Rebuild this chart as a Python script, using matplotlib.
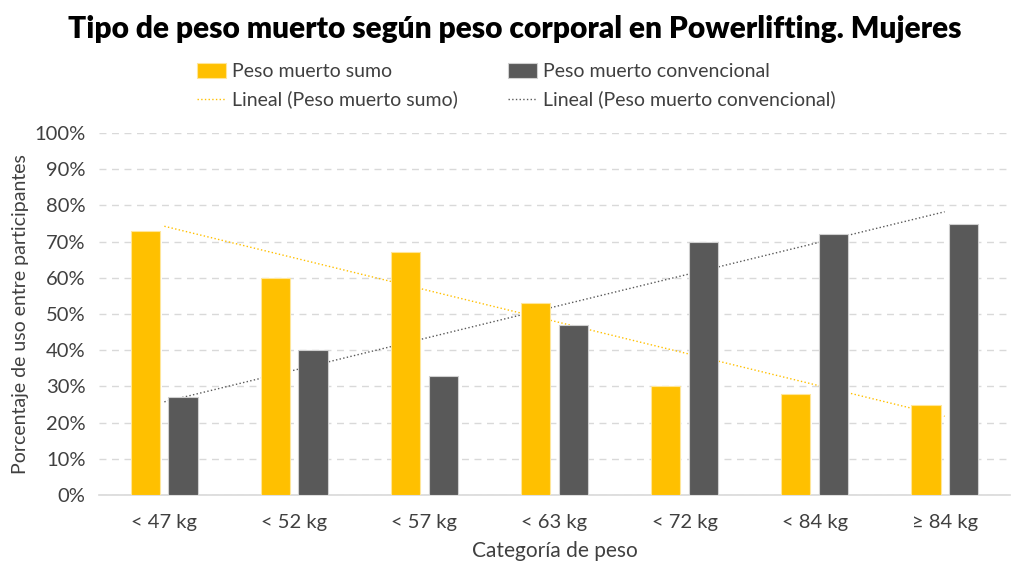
import matplotlib.pyplot as plt
import numpy as np
from matplotlib.ticker import PercentFormatter

plt.rcParams['font.family'] = ['Lato', 'DejaVu Sans']

categorias = ['< 47 kg', '< 52 kg', '< 57 kg', '< 63 kg', '< 72 kg', '< 84 kg', '≥ 84 kg']
sumo = [73, 60, 67, 53, 30, 28, 25]
convencional = [27, 40, 33, 47, 70, 72, 75]

amarillo = '#FFC000'
gris = '#595959'

fig = plt.figure(figsize=(10.24, 5.81), dpi=100)
ax = fig.add_axes([0.097, 0.148, 0.889, 0.623])

x = np.arange(len(categorias))
w = 0.225
off = 0.144
b1 = ax.bar(x - off, sumo, w, color=amarillo, edgecolor='#FFE699', linewidth=0.8,
            label='Peso muerto sumo', zorder=3)
b2 = ax.bar(x + off, convencional, w, color=gris, edgecolor='#D0D0D0', linewidth=0.8,
            label='Peso muerto convencional', zorder=3)

# lineas de tendencia (ajuste lineal)
xs = np.arange(1, len(categorias) + 1)
p1 = np.polyfit(xs, sumo, 1)
p2 = np.polyfit(xs, convencional, 1)
t1, = ax.plot(x, np.polyval(p1, xs), ls=':', color=amarillo, lw=1.0,
              label='Lineal (Peso muerto sumo)', zorder=2)
t2, = ax.plot(x, np.polyval(p2, xs), ls=':', color=gris, lw=1.0,
              label='Lineal (Peso muerto convencional)', zorder=2)

ax.set_xlim(-0.5, len(categorias) - 0.5)
ax.set_ylim(0, 100)
ax.set_yticks(np.arange(0, 101, 10))
ax.yaxis.set_major_formatter(PercentFormatter(decimals=0))
ax.set_xticks(x)
ax.set_xticklabels(categorias)
ax.tick_params(axis='both', length=0, labelsize=14.5, colors='#404040')
ax.tick_params(axis='x', pad=14)
ax.tick_params(axis='y', pad=10)
ax.grid(axis='y', ls=(0, (5, 4)), color='#D9D9D9', lw=1, zorder=0)
for s in ['top', 'right', 'left']:
    ax.spines[s].set_visible(False)
ax.spines['bottom'].set_color('#D9D9D9')
ax.spines['bottom'].set_linewidth(1.2)

ax.set_xlabel('Categoría de peso', fontsize=15, color='#404040', labelpad=7)
ax.set_ylabel('Porcentaje de uso entre participantes', fontsize=14, color='#404040', labelpad=4)

fig.suptitle('Tipo de peso muerto según peso corporal en Powerlifting. Mujeres',
             fontsize=21.5, fontweight='heavy', x=0.503, y=0.975)

# la leyenda llena por columnas: barras en la primera fila, tendencias en la segunda
hh = [b1, t1, b2, t2]
ll = [h.get_label() for h in hh]
fig.legend(hh, ll, ncol=2, loc='upper center', bbox_to_anchor=(0.504, 0.922),
           frameon=False, fontsize=14, handlelength=1.5, handleheight=0.8,
           columnspacing=2.6, labelcolor='#404040', handletextpad=0.3,
           labelspacing=0.55)

fig.savefig('out.png', dpi=100, facecolor='white')
